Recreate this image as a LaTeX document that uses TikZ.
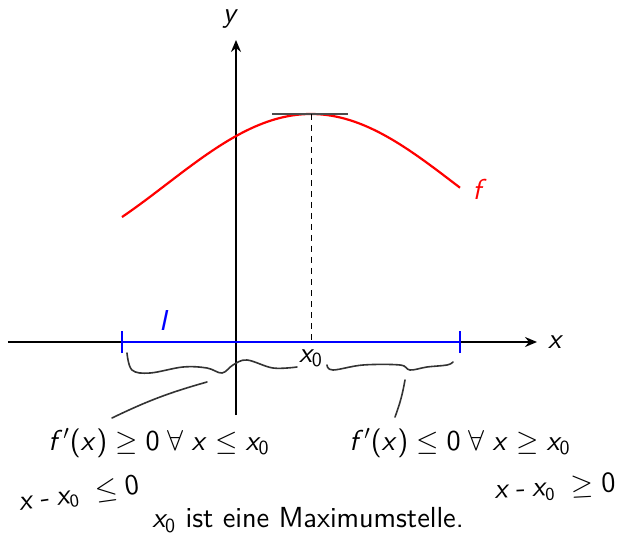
\documentclass[tikz,border=0pt]{standalone}
\usepackage{amsmath}
\usepackage{amssymb}
\usepackage{xcolor}
\usepackage{tikz}
\usetikzlibrary{arrows.meta,positioning}

% sans serif math letters, as in a slide
\DeclareSymbolFont{sfletters}{OT1}{cmss}{m}{sl}
\DeclareSymbolFont{sfdigits}{OT1}{cmss}{m}{n}
\DeclareMathSymbol{x}{\mathalpha}{sfletters}{`x}
\DeclareMathSymbol{y}{\mathalpha}{sfletters}{`y}
\DeclareMathSymbol{f}{\mathalpha}{sfletters}{`f}
\DeclareMathSymbol{I}{\mathalpha}{sfletters}{`I}
\DeclareMathSymbol{0}{\mathalpha}{sfdigits}{`0}
\DeclareMathSymbol{(}{\mathopen}{sfdigits}{`(}
\DeclareMathSymbol{)}{\mathclose}{sfdigits}{`)}
\DeclareMathSymbol{-}{\mathbin}{sfdigits}{`-}

\begin{document}
\begin{tikzpicture}[x=0.5pt, y=0.5pt,
    font=\sffamily\fontsize{14.5}{17}\selectfont,
    axis/.style={line width=1pt, -{Stealth[length=6pt,width=5pt,inset=2pt]}},
    graph/.style={draw=red, line width=1.1pt},
    interval/.style={draw=blue, line width=1.3pt},
    hand/.style={draw=black!80, line width=0.8pt, line cap=round},
    note/.style={font=\sffamily\fontsize{13.5}{16}\selectfont, text=black},
]
\useasboundingbox (-236,-193) rectangle (383,342);

% Axes
\coordinate (xstart) at (-228,0);
\coordinate (xend) at (301,0);
\coordinate (ystart) at (0,-73);
\coordinate (yend) at (0,302);
\draw[axis] (xstart) -- (xend);
\draw[axis] (ystart) -- (yend);
\node (xlab) at (320,0) {$x$};
\node (ylab) at (-5,323) {$y$};

% Graph of f
\draw[graph] plot[domain=-114:224, samples=80] (\x,{157.5+70.5*cos(deg(0.01085*(\x-75)))});
\node[text=red] (flab) at (244,152) {$f$};

% Maximum, tangent and x0
\coordinate (peak) at (75,228);
\coordinate (tanl) at (36,228);
\coordinate (tanr) at (112,228);
\coordinate (foot) at (75,0);
\draw[black!70, line width=0.6pt] (tanl) -- (tanr);
\draw[dash pattern=on 3pt off 2.5pt, line width=0.4pt] (peak) -- (foot);
\node (xnull) at (75,-16) {$x_0$};

% Interval I
\coordinate (ia) at (-114,0);
\coordinate (ib) at (224,0);
\draw[interval] (ia) -- (ib);
\draw[interval] ([yshift=-5.5pt]ia) -- ([yshift=5.5pt]ia);
\draw[interval] ([yshift=-5.5pt]ib) -- ([yshift=5.5pt]ib);
\node[text=blue] (ilab) at (-71,22) {$I$};

% Braces (hand drawn)
\draw[hand] plot[smooth, tension=0.6] coordinates {(-109,-11) (-104,-28) (-86,-31) (-53,-25) (-29,-26) (-14,-31) (-3,-23) (11,-18) (37,-26) (61,-25)};
\draw[hand] plot[smooth, tension=0.6] coordinates {(91,-23) (97,-28) (127,-23) (164,-23) (174,-28) (191,-25) (211,-23) (217,-20)};
\coordinate (lptop) at (-29,-40);
\coordinate (lpbot) at (-124,-76);
\coordinate (rptop) at (169,-38);
\coordinate (rpbot) at (159,-75);
\draw[hand] (lptop) to[bend right=5] (lpbot);
\draw[hand] (rptop) to[bend left=5] (rpbot);

% Conditions
\node (left) at (-77,-101) {$f'(x) \geq 0 \;\forall\; x \leq x_0$};
\node (right) at (224,-101) {$f'(x) \leq 0 \;\forall\; x \geq x_0$};

% Notes
\node[note, rotate=8] (lnote) at (-157,-153) {$x - x_0 \;\leq 0$};
\node[note, rotate=3] (rnote) at (319,-146) {$x - x_0 \;\geq 0$};
\node (result) at (72,-178) {$x_0$ ist eine Maximumstelle.};
\end{tikzpicture}
\end{document}
